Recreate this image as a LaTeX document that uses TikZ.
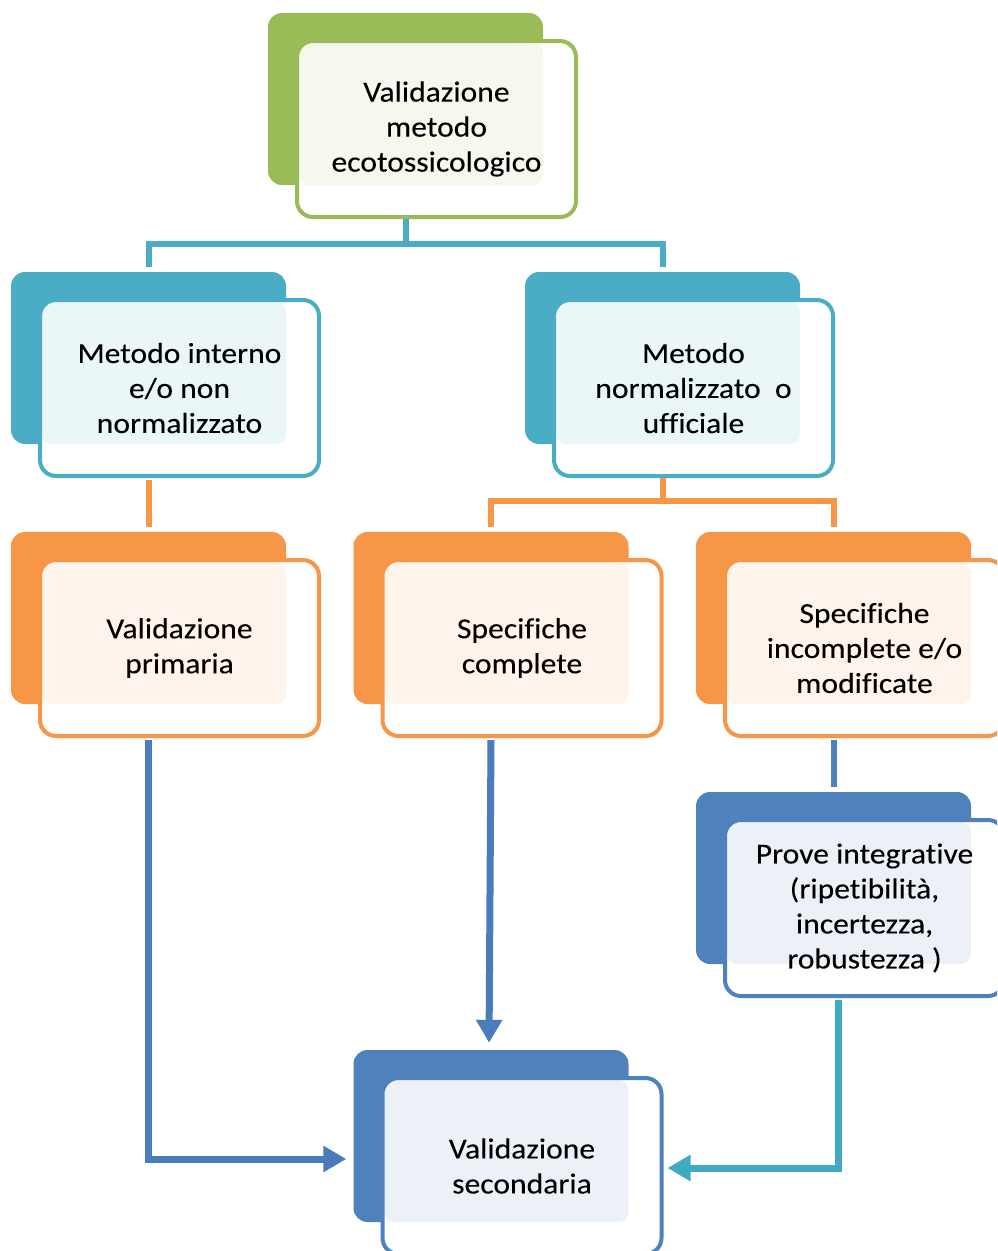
\documentclass[tikz,border=0pt]{standalone}
\usepackage{fontspec}
\setmainfont{Carlito}[FakeStretch=1.09,FakeBold=0.15,Ligatures={NoCommon}]
\usetikzlibrary{arrows.meta,calc}
\definecolor{cgreen}{HTML}{9BBB59}
\definecolor{cteal}{HTML}{4BACC6}
\definecolor{corange}{HTML}{F79646}
\definecolor{cblue}{HTML}{4F81BD}
\definecolor{cbluearr}{HTML}{4A7BBB}
\definecolor{ctealarr}{HTML}{42A9C3}
\tikzset{
  backbox/.style={fill=#1, rounded corners=14pt, minimum width=275pt, minimum height=172pt, inner sep=0pt},
  frontbox/.style={draw=#1, line width=4pt, fill=white, rounded corners=16pt,
    minimum width=279pt, minimum height=176pt, inner sep=0pt, align=center,
    font=\fontsize{29}{35}\selectfont,
    path picture={\fill[#1!11, rounded corners=10pt] ([shift={(2pt,-2pt)}]path picture bounding box.north west) rectangle ++(244pt,-142pt);}},
  conn/.style={line width=6pt},
  arr/.style={line width=7pt, -{Triangle[width=25pt,length=23pt]}}
}
\newcommand\mkbox[5]{%
  \node[backbox=#2] (#1b) at (#3-31,#4-30) {};
  \node[frontbox=#2] (#1) at (#3,#4) {#5};
}
\begin{document}
\begin{tikzpicture}[x=1pt,y=-1pt]
\useasboundingbox (0,0) rectangle (997,1251);
\clip (0,0) rectangle (997,1251);
\mkbox{top}{cgreen}{436.5}{129}{Validazione\\metodo\\ecotossicologico}
\mkbox{mi}{cteal}{179.5}{388}{Metodo interno\\e/o non\\normalizzato}
\mkbox{mn}{cteal}{693.5}{388}{Metodo\\normalizzato\ \ o\\ufficiale}
\mkbox{vp}{corange}{179.5}{648}{Validazione\\primaria}
\mkbox{sc}{corange}{522}{648}{Specifiche\\complete}
\mkbox{si}{corange}{864.5}{648}{Specifiche\\incomplete e/o\\modificate}
\mkbox{pi}{cblue}{864.5}{908}{Prove integrative\\(ripetibilità,\\incertezza,\\robustezza )}
\mkbox{vs}{cblue}{522}{1166}{Validazione\\secondaria}
% connectors
\draw[conn, cteal, shorten >=5pt] (topb.south |- top.south) -- ++(0,25) -| (mib.north);
\draw[conn, cteal, shorten >=5pt] (topb.south |- top.south) -- ++(0,25) -| (mnb.north);
\draw[conn, corange, shorten >=5pt, shorten <=2pt] (mib.south |- mi.south) -- (vpb.north);
\draw[conn, corange, shorten >=5pt] (mnb.south |- mn.south) -- ++(0,23) -| (scb.north);
\draw[conn, corange, shorten >=5pt] (mnb.south |- mn.south) -- ++(0,23) -| (sib.north);
\draw[conn, cblue, shorten >=5pt, shorten <=2pt] (sib.south |- si.south) -- (pib.north);
% arrows
\draw[arr, cbluearr, shorten >=7pt, shorten <=2pt] (vpb.south |- vp.south) |- ([yshift=-23pt]vsb.west);
\draw[arr, cbluearr, shorten >=7pt, shorten <=2pt] (scb.south |- sc.south) -- ([xshift=-2pt]vsb.north);
\draw[arr, ctealarr, shorten >=4pt, shorten <=2pt] ([xshift=5pt]pib.south |- pi.south) |- ([yshift=-2pt]vs.east);
\end{tikzpicture}
\end{document}
